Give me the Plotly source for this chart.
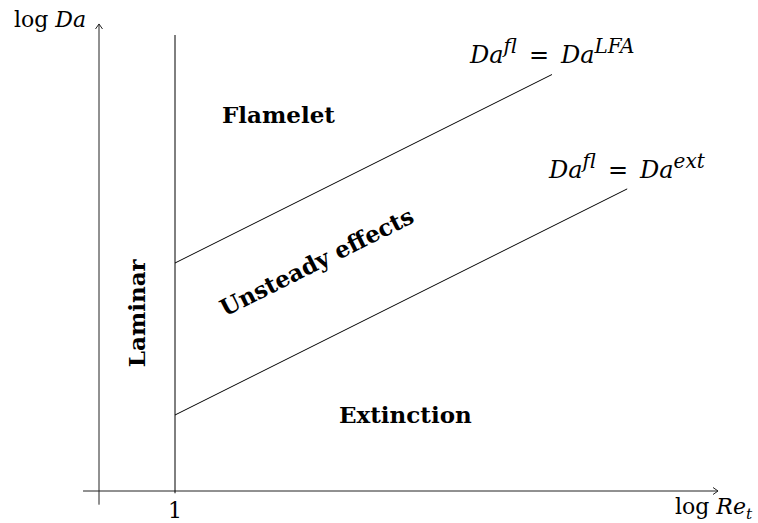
import plotly.graph_objects as go

# schematic coordinates (log Re_t on x, log Da on y), origin at axis crossing
axis_x = [-0.21, 8.145]          # horizontal axis extent
axis_y = [-0.18, 6.145]          # vertical axis extent
laminar_x = [1, 1]               # Re_t = 1 boundary
laminar_y = [-0.03, 6.0]
lfa_x = [1, 5.96]                # Da^fl = Da^LFA
lfa_y = [3.0, 5.48]
ext_x = [1, 6.95]                # Da^fl = Da^ext
ext_y = [1.0, 3.975]

regions = ["<b>Flamelet</b>", "<b>Laminar</b>", "<b>Unsteady effects</b>", "<b>Extinction</b>"]
region_x = [2.368, 0.487, 2.86, 4.03]
region_y = [4.96, 2.34, 3.02, 1.01]
region_angle = [0, -90, -26.57, 0]

U = 76.0  # px per unit
FONT = "DejaVu Serif"

fig = go.Figure()
line = dict(color="black", width=1)
fig.add_trace(go.Scatter(x=axis_x, y=[0, 0], mode="lines", line=dict(color="#222", width=1), hoverinfo="skip"))
fig.add_trace(go.Scatter(x=[0, 0], y=axis_y, mode="lines", line=dict(color="#222", width=1), hoverinfo="skip"))
fig.add_trace(go.Scatter(x=laminar_x, y=laminar_y, mode="lines", line=line, hoverinfo="skip"))
fig.add_trace(go.Scatter(x=lfa_x, y=lfa_y, mode="lines", line=line, hoverinfo="skip"))
fig.add_trace(go.Scatter(x=ext_x, y=ext_y, mode="lines", line=line, hoverinfo="skip"))

# open arrowheads computed from axis ends
tx, ty = axis_x[1], axis_y[1]
hl, hw = 5 / U, 3.5 / U
ahx = [tx - hl, tx, tx - hl, None, -hw, 0, hw]
ahy = [hw, 0, -hw, None, ty - hl, ty, ty - hl]
fig.add_trace(go.Scatter(x=ahx, y=ahy, mode="lines", line=dict(color="#222", width=1), hoverinfo="skip"))

def sup(s):
    return '<sup><span style="font-size:20px"><i>%s</i></span></sup>' % s

anns = []
for t, x, y, a in zip(regions, region_x, region_y, region_angle):
    anns.append(dict(x=x, y=y, text=t, textangle=a, showarrow=False,
                     font=dict(family=FONT, size=23, color="black")))
anns.append(dict(x=lfa_x[1], y=lfa_y[1] + 0.3,
                 text="<i>Da</i>" + sup("fl") + "&#8194;=&#8194;<i>Da</i>" + sup("LFA"),
                 showarrow=False, font=dict(family=FONT, size=24, color="black")))
anns.append(dict(x=ext_x[1], y=ext_y[1] + 0.29,
                 text="<i>Da</i>" + sup("fl") + "&#8194;=&#8194;<i>Da</i>" + sup("ext"),
                 showarrow=False, font=dict(family=FONT, size=24, color="black")))
anns.append(dict(x=-0.645, y=6.21, text="log <i>Da</i>", showarrow=False,
                 font=dict(family=FONT, size=22, color="black")))
anns.append(dict(x=(755 - 99) / U, y=-0.235, xanchor="right",
                 text="log <i>Re</i><sub><i>t</i></sub>", showarrow=False,
                 font=dict(family=FONT, size=22, color="black")))
anns.append(dict(x=laminar_x[0], y=-0.25, text="1", showarrow=False,
                 font=dict(family=FONT, size=22, color="black")))

fig.update_layout(
    width=758, height=523, margin=dict(l=0, r=0, t=0, b=0),
    paper_bgcolor="white", plot_bgcolor="white", showlegend=False,
    xaxis=dict(range=[-99 / U, (758 - 99) / U], visible=False, fixedrange=True),
    yaxis=dict(range=[(491 - 523) / U, 491 / U], visible=False, fixedrange=True),
    annotations=anns,
)
fig.write_html("out.html")
